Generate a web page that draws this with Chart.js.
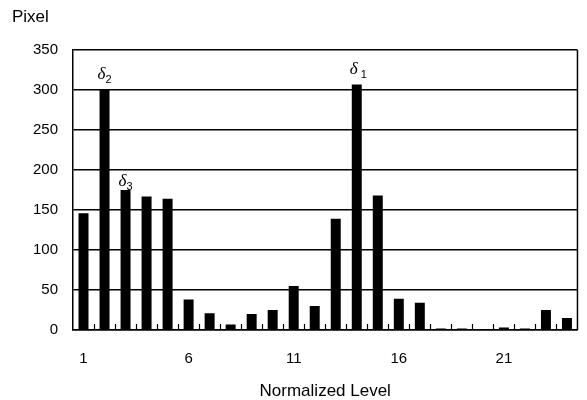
<!DOCTYPE html>
<html>
<head>
<meta charset="utf-8">
<script src="https://cdn.jsdelivr.net/npm/chart.js@4/dist/chart.umd.min.js"></script>
<style>
  html, body { margin: 0; padding: 0; background: #fff; }
  #wrap { width: 587px; height: 400px; }
</style>
</head>
<body>
<div id="wrap"><canvas id="levelChart"></canvas></div>
<script>
// Normalized level histogram
const levels = ['1','2','3','4','5','6','7','8','9','10','11','12',
                '13','14','15','16','17','18','19','20','21','22','23','24'];
const pixelCounts = [146, 300, 175, 167, 164, 38, 21, 7, 20, 25, 55, 30,
                     139, 307, 168, 39, 34, 2, 2, 0, 3, 2, 25, 15];
const yTicks = [0, 50, 100, 150, 200, 250, 300, 350];

// delta markers: category index, subscript, anchor value on the y scale
const deltaMarks = [
    { index: 1, sub: '2', value: 314 },
    { index: 2, sub: '3', value: 180 },
    { index: 13, sub: ' 1', value: 320 }
];

const sansFont = '"Liberation Sans", Arial, sans-serif';

const extrasPlugin = {
    id: 'extras',
    afterDraw(chart) {
        const ctx = chart.ctx;
        const area = chart.chartArea;
        const xs = chart.scales.x;
        const ys = chart.scales.y;
        ctx.save();
        ctx.strokeStyle = '#000';

        // right frame line
        ctx.lineWidth = 1.5;
        ctx.beginPath();
        ctx.moveTo(area.right, area.top);
        ctx.lineTo(area.right, area.bottom);
        ctx.stroke();

        // small inward tick marks between categories
        ctx.lineWidth = 1.2;
        for (let i = 0; i < levels.length - 1; i++) {
            const x = Math.round(xs.getPixelForValue(i + 0.5)) + 0.5;
            ctx.beginPath();
            ctx.moveTo(x, area.bottom);
            ctx.lineTo(x, area.bottom - 6);
            ctx.stroke();
        }

        // axis title "Pixel"
        ctx.fillStyle = '#000';
        ctx.font = '17px ' + sansFont;
        ctx.textAlign = 'left';
        ctx.textBaseline = 'alphabetic';
        ctx.fillText('Pixel', 12, 22);

        // delta labels
        const meta = chart.getDatasetMeta(0);
        deltaMarks.forEach(m => {
            const bar = meta.data[m.index];
            const x = bar.x - 7;
            const y = ys.getPixelForValue(m.value);
            ctx.font = 'italic 17px "Liberation Serif", "Times New Roman", serif';
            ctx.fillText('\u03b4', x, y);
            const w = ctx.measureText('\u03b4').width;
            ctx.font = '11px ' + sansFont;
            ctx.fillText(m.sub, x + w, y + 4);
        });
        ctx.restore();
    }
};

new Chart(document.getElementById('levelChart'), {
    type: 'bar',
    data: {
        labels: levels,
        datasets: [{
            data: pixelCounts,
            backgroundColor: '#000',
            borderWidth: 0,
            barPercentage: 0.95,
            categoryPercentage: 0.5
        }]
    },
    options: {
        responsive: true,
        maintainAspectRatio: false,
        animation: false,
        layout: { padding: { left: 0, top: 50, right: 2, bottom: 0 } },
        plugins: {
            legend: { display: false },
            tooltip: { enabled: false }
        },
        scales: {
            x: {
                grid: { display: false, drawTicks: false },
                border: { display: true, color: '#000', width: 1.5 },
                ticks: {
                    autoSkip: false,
                    maxRotation: 0,
                    padding: 20,
                    color: '#000',
                    font: { family: sansFont, size: 15 },
                    callback: function(value, index) {
                        return index % 5 === 0 ? levels[index] : '';
                    }
                },
                title: {
                    display: true,
                    text: 'Normalized Level',
                    color: '#000',
                    font: { family: sansFont, size: 17 },
                    padding: { top: 0, bottom: -2 }
                },
                afterFit: function(scale) { scale.height = 70; }
            },
            y: {
                min: 0,
                max: 350,
                afterBuildTicks: function(scale) {
                    scale.ticks = yTicks.map(v => ({ value: v }));
                },
                grid: { color: '#000', lineWidth: 1.4, drawTicks: false },
                border: { display: true, color: '#000', width: 1.5 },
                ticks: {
                    padding: 15,
                    color: '#000',
                    font: { family: sansFont, size: 15 }
                },
                afterFit: function(scale) { scale.width = 73; }
            }
        }
    },
    plugins: [extrasPlugin]
});
</script>
</body>
</html>
